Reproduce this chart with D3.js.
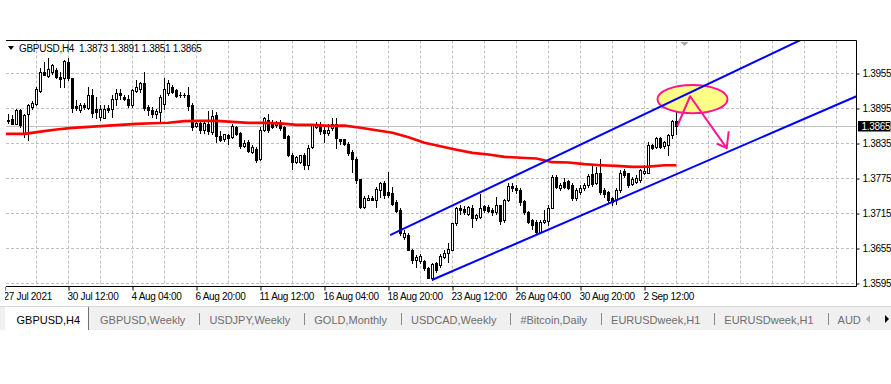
<!DOCTYPE html>
<html>
<head>
<meta charset="utf-8">
<script src="https://cdn.jsdelivr.net/npm/d3@7"></script>
<style>
  html, body { margin: 0; padding: 0; background: #fff; }
  svg { display: block; font-family: "Liberation Sans", Arial, sans-serif; }
  .axis text { font-size: 10px; letter-spacing: -0.3px; fill: #000; }
  .axis path { display: none; }
  .tab { font-size: 11px; }
</style>
</head>
<body>
<div id="container"></div>
<script>
//-----------------------------DATA------------------------------//
// GBPUSD H4, one value per bar (bar 0 = 28 Jul 00:00, bar 167 = 3 Sep 20:00)
var opens = [
 1.3876,1.3877,1.3869,1.3893,1.3851,1.3885,1.3898,1.3902,1.3925,1.3958,1.3951,1.3957,1.3961,1.3949,1.3947,1.3975,
 1.3947,1.3899,1.3893,1.3901,1.3896,1.3919,1.3895,1.3880,1.3879,1.3896,1.3895,1.3911,1.3922,1.3915,1.3912,1.3901,
 1.3925,1.3929,1.3938,1.3898,1.3892,1.3886,1.3889,1.3903,1.3921,1.3931,1.3926,1.3919,1.3918,1.3918,1.3901,1.3865,
 1.3870,1.3859,1.3869,1.3855,1.3884,1.3848,1.3842,1.3850,1.3846,1.3864,1.3853,1.3831,1.3838,1.3821,1.3826,1.3809,
 1.3858,1.3876,1.3872,1.3866,1.3872,1.3864,1.3848,1.3815,1.3804,1.3804,1.3815,1.3798,1.3829,1.3864,1.3865,1.3859,
 1.3853,1.3861,1.3869,1.3843,1.3842,1.3835,1.3821,1.3809,1.3775,1.3726,1.3739,1.3742,1.3739,1.3756,1.3768,1.3751,
 1.3750,1.3735,1.3721,1.3675,1.3679,1.3653,1.3635,1.3634,1.3634,1.3621,1.3604,1.3630,1.3626,1.3641,1.3648,1.3653,
 1.3698,1.3724,1.3722,1.3715,1.3724,1.3707,1.3709,1.3727,1.3726,1.3721,1.3717,1.3729,1.3704,1.3738,1.3762,1.3759,
 1.3755,1.3736,1.3718,1.3704,1.3700,1.3684,1.3700,1.3702,1.3725,1.3778,1.3758,1.3769,1.3770,1.3764,1.3741,1.3752,
 1.3758,1.3764,1.3782,1.3768,1.3784,1.3755,1.3751,1.3741,1.3738,1.3755,1.3787,1.3784,1.3765,1.3769,1.3772,1.3784,
 1.3785,1.3832,1.3829,1.3845,1.3831,1.3833,1.3849,1.3873
];
var highs = [
 1.3885,1.3884,1.3895,1.3895,1.3886,1.3902,1.3907,1.3931,1.3964,1.3975,1.3981,1.3972,1.3964,1.3958,1.3978,1.3981,
 1.3947,1.3909,1.3904,1.3904,1.3932,1.3929,1.3915,1.3901,1.3901,1.3901,1.3918,1.3929,1.3929,1.3919,1.3918,1.3929,
 1.3944,1.3941,1.3958,1.3901,1.3898,1.3895,1.3918,1.3947,1.3944,1.3936,1.3929,1.3923,1.3921,1.3932,1.3904,1.3874,
 1.3876,1.3871,1.3890,1.3893,1.3889,1.3857,1.3852,1.3852,1.3869,1.3865,1.3855,1.3841,1.3841,1.3832,1.3829,1.3864,
 1.3880,1.3886,1.3876,1.3874,1.3876,1.3865,1.3850,1.3818,1.3813,1.3816,1.3818,1.3832,1.3869,1.3872,1.3872,1.3864,
 1.3869,1.3878,1.3878,1.3843,1.3842,1.3838,1.3824,1.3812,1.3775,1.3745,1.3746,1.3745,1.3760,1.3769,1.3771,1.3786,
 1.3761,1.3738,1.3724,1.3686,1.3682,1.3655,1.3644,1.3645,1.3635,1.3624,1.3630,1.3632,1.3646,1.3652,1.3664,1.3699,
 1.3726,1.3729,1.3728,1.3728,1.3729,1.3715,1.3749,1.3729,1.3729,1.3724,1.3744,1.3730,1.3740,1.3767,1.3767,1.3764,
 1.3758,1.3738,1.3719,1.3706,1.3704,1.3704,1.3721,1.3729,1.3781,1.3781,1.3767,1.3776,1.3773,1.3767,1.3758,1.3764,
 1.3767,1.3782,1.3798,1.3795,1.3808,1.3758,1.3753,1.3744,1.3758,1.3789,1.3791,1.3785,1.3778,1.3781,1.3792,1.3798,
 1.3837,1.3835,1.3846,1.3846,1.3839,1.3852,1.3875,1.3891
];
var lows = [
 1.3870,1.3868,1.3868,1.3864,1.3846,1.3841,1.3895,1.3901,1.3924,1.3952,1.3949,1.3955,1.3947,1.3932,1.3932,1.3944,
 1.3889,1.3892,1.3889,1.3895,1.3894,1.3881,1.3878,1.3875,1.3878,1.3889,1.3881,1.3901,1.3912,1.3909,1.3898,1.3898,
 1.3924,1.3924,1.3892,1.3884,1.3881,1.3878,1.3872,1.3895,1.3918,1.3921,1.3915,1.3915,1.3915,1.3892,1.3859,1.3864,
 1.3853,1.3853,1.3852,1.3852,1.3838,1.3840,1.3840,1.3835,1.3844,1.3849,1.3827,1.3829,1.3821,1.3818,1.3803,1.3806,
 1.3857,1.3855,1.3861,1.3864,1.3858,1.3844,1.3813,1.3792,1.3801,1.3802,1.3791,1.3791,1.3827,1.3862,1.3852,1.3838,
 1.3849,1.3858,1.3827,1.3835,1.3832,1.3815,1.3786,1.3767,1.3724,1.3725,1.3738,1.3738,1.3726,1.3744,1.3741,1.3744,
 1.3729,1.3718,1.3678,1.3672,1.3652,1.3630,1.3624,1.3630,1.3618,1.3604,1.3601,1.3615,1.3623,1.3638,1.3632,1.3652,
 1.3695,1.3715,1.3715,1.3712,1.3692,1.3704,1.3708,1.3718,1.3718,1.3712,1.3714,1.3697,1.3701,1.3736,1.3754,1.3750,
 1.3729,1.3715,1.3698,1.3689,1.3681,1.3681,1.3698,1.3695,1.3724,1.3758,1.3755,1.3758,1.3757,1.3738,1.3738,1.3749,
 1.3755,1.3761,1.3762,1.3765,1.3748,1.3744,1.3735,1.3729,1.3732,1.3752,1.3778,1.3761,1.3764,1.3768,1.3769,1.3782,
 1.3784,1.3826,1.3827,1.3827,1.3827,1.3815,1.3844,1.3851
];
var closes = [
 1.3873,1.3869,1.3893,1.3866,1.3884,1.3901,1.3905,1.3929,1.3957,1.3953,1.3962,1.3969,1.3949,1.3945,1.3976,1.3947,
 1.3896,1.3896,1.3901,1.3898,1.3919,1.3888,1.3889,1.3894,1.3895,1.3893,1.3912,1.3922,1.3918,1.3912,1.3901,1.3926,
 1.3932,1.3938,1.3896,1.3892,1.3885,1.3890,1.3914,1.3929,1.3938,1.3923,1.3916,1.3918,1.3919,1.3899,1.3864,1.3870,
 1.3859,1.3870,1.3857,1.3882,1.3848,1.3841,1.3851,1.3844,1.3865,1.3851,1.3830,1.3836,1.3822,1.3829,1.3806,1.3859,
 1.3878,1.3859,1.3864,1.3870,1.3861,1.3845,1.3815,1.3804,1.3811,1.3815,1.3798,1.3828,1.3868,1.3869,1.3856,1.3853,
 1.3859,1.3869,1.3845,1.3839,1.3834,1.3818,1.3809,1.3772,1.3726,1.3741,1.3742,1.3739,1.3757,1.3768,1.3747,1.3746,
 1.3732,1.3719,1.3681,1.3682,1.3653,1.3635,1.3641,1.3642,1.3621,1.3605,1.3628,1.3618,1.3642,1.3648,1.3655,1.3698,
 1.3724,1.3721,1.3718,1.3726,1.3707,1.3712,1.3724,1.3721,1.3720,1.3718,1.3729,1.3702,1.3738,1.3762,1.3759,1.3756,
 1.3734,1.3718,1.3701,1.3695,1.3684,1.3701,1.3704,1.3725,1.3778,1.3761,1.3763,1.3761,1.3759,1.3741,1.3755,1.3758,
 1.3764,1.3779,1.3765,1.3784,1.3751,1.3749,1.3738,1.3735,1.3755,1.3785,1.3781,1.3764,1.3775,1.3776,1.3789,1.3788,
 1.3833,1.3828,1.3844,1.3829,1.3837,1.3849,1.3873,1.3865
];

// moving average, read every 4th bar
var maBars = [-1,0,4,8,12,16,20,24,28,32,36,40,44,48,52,56,60,64,68,72,76,80,84,
  88,92,96,100,104,108,112,116,120,124,128,132,136,140,144,148,152,156,160,164,167];
var maValues = [1.38515,1.38515,1.38515,1.38553,1.38590,1.38618,1.38635,1.38652,1.38669,1.38686,1.38698,
  1.38707,1.38733,1.38738,1.38738,1.38721,1.38704,1.38704,1.38695,1.38669,1.38669,1.38652,1.38656,
  1.38621,1.38578,1.38536,1.38458,1.38364,1.38304,1.38244,1.38189,1.38162,1.38121,1.38107,1.38093,
  1.38030,1.38025,1.37996,1.37978,1.37966,1.37949,1.37953,1.37978,1.37978];

// trend lines drawn on the chart: [bar, price]
var upperLine = [[95.4, 1.3678], [212, 1.4058]];
var lowerLine = [[105.85, 1.3601], [212, 1.3916]];

// hand drawn mark: ellipse and arrow
var markCenter = [171, 1.3911];
var markRadius = [8.75, 0.00243];
var arrowLegs = [[167.2, 1.3865], [170.4, 1.3916], [179.55, 1.3827]];
var arrowHead = [[180.05, 1.3856], [179.55, 1.3827], [177.05, 1.3835]];

var priceTicks = [1.3595, 1.3655, 1.3715, 1.3775, 1.3835, 1.3895, 1.3955];
var timeBars = [-1, 15, 31, 47, 63, 79, 95, 111, 127, 143, 159];
var timeLabels = ["27 Jul 2021", "30 Jul 12:00", "4 Aug 04:00", "6 Aug 20:00", "11 Aug 12:00",
  "16 Aug 04:00", "18 Aug 20:00", "23 Aug 12:00", "26 Aug 04:00", "30 Aug 20:00", "2 Sep 12:00"];
var tabLabels = ["GBPUSD,H4", "GBPUSD,Weekly", "USDJPY,Weekly", "GOLD,Monthly", "USDCAD,Weekly",
  "#Bitcoin,Daily", "EURUSDweek,H1", "EURUSDweek,H1", "AUD"];
var symbol = "GBPUSD,H4";

//-----------------------------SETUP-----------------------------//
var width = 891;
var height = 384;
var plotLeft = 6, plotRight = 856.5, plotTop = 40.5, plotBottom = 286.5;

var svg = d3.select("div#container").append("svg")
    .attr("width", width)
    .attr("height", height);

svg.append("rect").attr("width", width).attr("height", height).attr("fill", "#fff");

svg.append("clipPath").attr("id", "plotclip")
  .append("rect").attr("x", plotLeft).attr("y", plotTop)
  .attr("width", plotRight - plotLeft).attr("height", plotBottom - plotTop);

svg.append("clipPath").attr("id", "labelclip")
  .append("rect").attr("x", 5).attr("y", 0).attr("width", plotRight - 5).attr("height", height);

//----------------------------SCALES-----------------------------//
var x = d3.scaleLinear().domain([0, 167]).range([8.5, 676.5]);
var y = d3.scaleLinear().domain([1.3595, 1.3955]).range([283.5, 73.5]);

//-----------------------------GRID------------------------------//
var gridBars = d3.range(7, 212, 8);
svg.append("g").selectAll("line").data(gridBars).enter().append("line")
    .attr("x1", d => x(d)).attr("x2", d => x(d))
    .attr("y1", plotTop).attr("y2", plotBottom)
    .attr("stroke", "#c0c0c0").attr("stroke-dasharray", "3,2");

svg.append("g").selectAll("line").data(priceTicks).enter().append("line")
    .attr("x1", plotLeft).attr("x2", plotRight)
    .attr("y1", d => y(d)).attr("y2", d => y(d))
    .attr("stroke", "#c0c0c0").attr("stroke-dasharray", "3,2");

// bid line
var last = closes[closes.length - 1];
svg.append("line")
    .attr("x1", plotLeft).attr("x2", plotRight)
    .attr("y1", Math.round(y(last)) + 0.5)
    .attr("y2", Math.round(y(last)) + 0.5)
    .attr("stroke", "#c0c0c0");

//----------------------------CANDLES----------------------------//
var plot = svg.append("g").attr("clip-path", "url(#plotclip)");

var bars = d3.range(opens.length);
var candles = plot.selectAll("g.candle").data(bars).enter().append("g")
    .attr("class", "candle")
    .attr("shape-rendering", "crispEdges");

candles.append("line")
    .attr("x1", d => x(d)).attr("x2", d => x(d))
    .attr("y1", d => Math.round(y(highs[d]))).attr("y2", d => Math.round(y(lows[d])) + 1)
    .attr("stroke", "#000");

candles.append("rect")
    .each(function(d) {
        var up = closes[d] >= opens[d];
        var t = Math.round(y(Math.max(opens[d], closes[d])));
        var b = Math.round(y(Math.min(opens[d], closes[d])));
        var r = d3.select(this);
        if (up && b - t >= 2) {
            r.attr("x", x(d) - 1).attr("width", 2)
             .attr("y", t + 0.5).attr("height", b - t)
             .attr("fill", "#fff").attr("stroke", "#000");
        } else {
            r.attr("x", x(d) - 1.5).attr("width", 3)
             .attr("y", t).attr("height", Math.max(1, b - t + 1))
             .attr("fill", "#000");
        }
    });

//---------------------------MA LINE-----------------------------//
var maLine = d3.line()
    .x((d, i) => x(maBars[i]))
    .y(d => y(d));

plot.append("path")
    .attr("d", maLine(maValues))
    .attr("fill", "none")
    .attr("stroke", "#ff0000")
    .attr("stroke-width", 2.6);

//---------------------------OBJECTS-----------------------------//
var pt = d3.line().x(d => x(d[0])).y(d => y(d[1]));

plot.append("ellipse")
    .attr("cx", x(markCenter[0]))
    .attr("cy", y(markCenter[1]))
    .attr("rx", x(markCenter[0] + markRadius[0]) - x(markCenter[0]))
    .attr("ry", y(markCenter[1] - markRadius[1]) - y(markCenter[1]))
    .attr("fill", "#ffff88")
    .attr("stroke", "#ff1493")
    .attr("stroke-width", 2);

[upperLine, lowerLine].forEach(function(l) {
    plot.append("path")
        .attr("d", pt(l))
        .attr("fill", "none")
        .attr("stroke", "#0000ff")
        .attr("stroke-width", 2);
});

[arrowLegs, arrowHead].forEach(function(l) {
    plot.append("path")
        .attr("d", pt(l))
        .attr("fill", "none")
        .attr("stroke", "#ff1493")
        .attr("stroke-width", 2)
        .attr("stroke-linejoin", "round");
});

//-----------------------------FRAME-----------------------------//
svg.append("line").attr("x1", plotLeft).attr("x2", plotRight).attr("y1", plotTop).attr("y2", plotTop).attr("stroke", "#000");
svg.append("line").attr("x1", plotLeft).attr("x2", plotRight).attr("y1", plotBottom).attr("y2", plotBottom).attr("stroke", "#000");
svg.append("line").attr("x1", plotRight).attr("x2", plotRight).attr("y1", plotTop).attr("y2", plotBottom).attr("stroke", "#000");

// chart shift marker
svg.append("path")
    .attr("d", "M" + (x(169) - 4) + ",42 L" + (x(169) + 4) + ",42 L" + x(169) + ",46 Z")
    .attr("fill", "#a8a8a8");

//-----------------------------AXES------------------------------//
var yaxis = d3.axisRight(y)
    .tickValues(priceTicks)
    .tickSize(3)
    .tickPadding(3)
    .tickFormat(d3.format(".4f"));

svg.append("g")
    .attr("class", "axis")
    .attr("transform", "translate(" + plotRight + ",0)")
    .call(yaxis)
    .selectAll("line").attr("stroke", "#000");

var xaxis = d3.axisBottom(x)
    .tickValues(timeBars)
    .tickSize(4)
    .tickFormat((d, i) => timeLabels[i]);

var xg = svg.append("g")
    .attr("class", "axis")
    .attr("clip-path", "url(#labelclip)")
    .attr("transform", "translate(0," + plotBottom + ")")
    .call(xaxis);
xg.selectAll("line").attr("stroke", "#000");
xg.selectAll("text").attr("text-anchor", "start").attr("x", -1.5).attr("y", 6);

// current price label
svg.append("rect")
    .attr("x", plotRight + 1.5).attr("y", y(last) - 5)
    .attr("width", 32.5).attr("height", 10.5)
    .attr("fill", "#000");
svg.append("text")
    .attr("x", plotRight + 5)
    .attr("y", y(last) + 3.8)
    .style("font-size", "10px")
    .style("letter-spacing", "-0.3px")
    .attr("fill", "#fff")
    .text(d3.format(".4f")(last));

//----------------------------HEADER-----------------------------//
svg.append("path").attr("d", "M8,46 L14,46 L11,50 Z").attr("fill", "#000");
var header = svg.append("g").attr("class", "axis");
header.append("text").attr("x", 19).attr("y", 52).text(symbol);
header.append("text").attr("x", 79).attr("y", 52)
    .text([opens, highs, lows, closes].map(a => d3.format(".4f")(a[a.length - 1])).join(" "));

//-----------------------------TABS------------------------------//
var tabs = svg.append("g").attr("class", "tab");
tabs.append("rect").attr("x", 0).attr("y", 306).attr("width", width).attr("height", 24).attr("fill", "#f0f0f0");
tabs.append("line").attr("x1", 0).attr("x2", width).attr("y1", 306.5).attr("y2", 306.5).attr("stroke", "#d8d8d8");
tabs.append("rect").attr("x", 5).attr("y", 307).attr("width", 83).attr("height", 23).attr("fill", "#fff");
tabs.append("line").attr("x1", 88.5).attr("x2", 88.5).attr("y1", 307).attr("y2", 330).attr("stroke", "#707070");

var cursor = 16.5;
var tg = tabs.append("g");
tabLabels.forEach(function(t, i) {
    var txt = tg.append("text")
        .attr("x", cursor).attr("y", 323.5)
        .attr("fill", i === 0 ? "#000" : "#6d6d6d")
        .text(t);
    var w = txt.node().getComputedTextLength();
    if (i === 0) { cursor = 100; return; }
    var sep = cursor + w + 14;
    if (i < tabLabels.length - 1) {
        tg.append("line")
            .attr("x1", Math.round(sep) + 0.5).attr("x2", Math.round(sep) + 0.5)
            .attr("y1", 313).attr("y2", 325)
            .attr("stroke", "#8a8a8a");
    }
    cursor = sep + 10;
});

// scroll arrows
tabs.append("path").attr("d", "M870,315 L870,323 L866,319 Z").attr("fill", "#b0b0b0");
tabs.append("path").attr("d", "M885,315 L885,323 L889,319 Z").attr("fill", "#000");
</script>
</body>
</html>
